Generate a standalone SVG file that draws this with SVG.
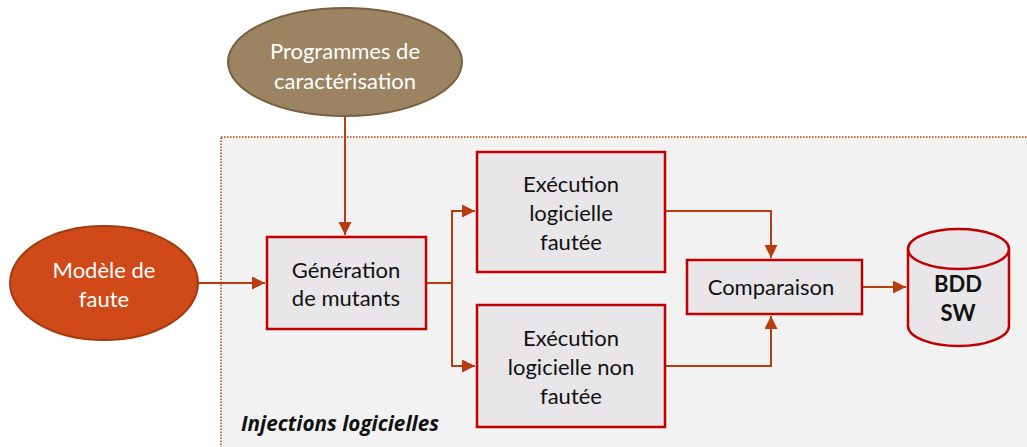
<svg xmlns="http://www.w3.org/2000/svg" width="1027" height="447" viewBox="0 0 1027 447">
<defs>
<marker id="arr" viewBox="0 0 10 10" refX="10" refY="5" markerWidth="6.5" markerHeight="6.5" orient="auto" markerUnits="strokeWidth">
<path d="M0,0 L10,5 L0,10 z" fill="#b83c0e"/>
</marker>
<style>
.t{font-family:Lato,"Open Sans",sans-serif;font-size:22px;text-anchor:middle;fill:#111}
.w{fill:#fff}
.box{fill:#e8e6e8;stroke:#c00000;stroke-width:2.5}
.c{fill:none;stroke:#b83c0e;stroke-width:2}
</style>
</defs>
<rect x="0" y="0" width="1027" height="447" fill="#fff"/>
<g id="zone">
<rect x="221" y="137" width="820" height="330" fill="#f2f2f2" stroke="#b83c0e" stroke-width="1.5" stroke-dasharray="1.5,1.5"/>
<text x="241" y="431" style="font-family:'Open Sans',sans-serif;font-size:20.7px;font-weight:bold;font-style:italic;fill:#111">Injections logicielles</text>
</g>
<g id="connectors">
<path class="c" d="M345,117 V235" marker-end="url(#arr)"/>
<path class="c" d="M198,283 H265" marker-end="url(#arr)"/>
<path class="c" d="M426,283 H452"/>
<path class="c" d="M452,366 V211 H475" marker-end="url(#arr)"/>
<path class="c" d="M452,283 V366 H475" marker-end="url(#arr)"/>
<path class="c" d="M665,211 H771 V258" marker-end="url(#arr)"/>
<path class="c" d="M665,366 H771 V316" marker-end="url(#arr)"/>
<path class="c" d="M862,287 H906" marker-end="url(#arr)"/>
</g>
<g id="prog">
<ellipse cx="345" cy="62" rx="117" ry="54" fill="#9c8463" stroke="#786040" stroke-width="2"/>
<text class="t w" x="345" y="59">Programmes de</text>
<text class="t w" x="345" y="89">caractérisation</text>
</g>
<g id="modele">
<ellipse cx="104" cy="283" rx="94" ry="57" fill="#d04a19" stroke="#a33a10" stroke-width="2"/>
<text class="t w" x="104" y="278">Modèle de</text>
<text class="t w" x="104" y="307">faute</text>
</g>
<g id="generation">
<rect class="box" x="267" y="237" width="159" height="92"/>
<text class="t" x="346" y="278">Génération</text>
<text class="t" x="346" y="306">de mutants</text>
</g>
<g id="exec1">
<rect class="box" x="477" y="152" width="188" height="120"/>
<text class="t" x="571" y="192">Exécution</text>
<text class="t" x="571" y="221">logicielle</text>
<text class="t" x="571" y="250">fautée</text>
</g>
<g id="exec2">
<rect class="box" x="477" y="305" width="188" height="122"/>
<text class="t" x="571" y="346">Exécution</text>
<text class="t" x="571" y="375">logicielle non</text>
<text class="t" x="571" y="404">fautée</text>
</g>
<g id="comparaison">
<rect class="box" x="687" y="260" width="175" height="54"/>
<text class="t" x="771" y="295">Comparaison</text>
</g>
<g id="bdd">
<path class="box" d="M908,249 V326 A50.5,20 0 0 0 1009,326 V249 A50.5,20 0 0 0 908,249 Z"/>
<path d="M908,249 A50.5,20 0 0 0 1009,249" fill="none" stroke="#c00000" stroke-width="2.5"/>
<text class="t" x="958" y="292" style="font-weight:bold">BDD</text>
<text class="t" x="958" y="321" style="font-weight:bold">SW</text>
</g>
</svg>
